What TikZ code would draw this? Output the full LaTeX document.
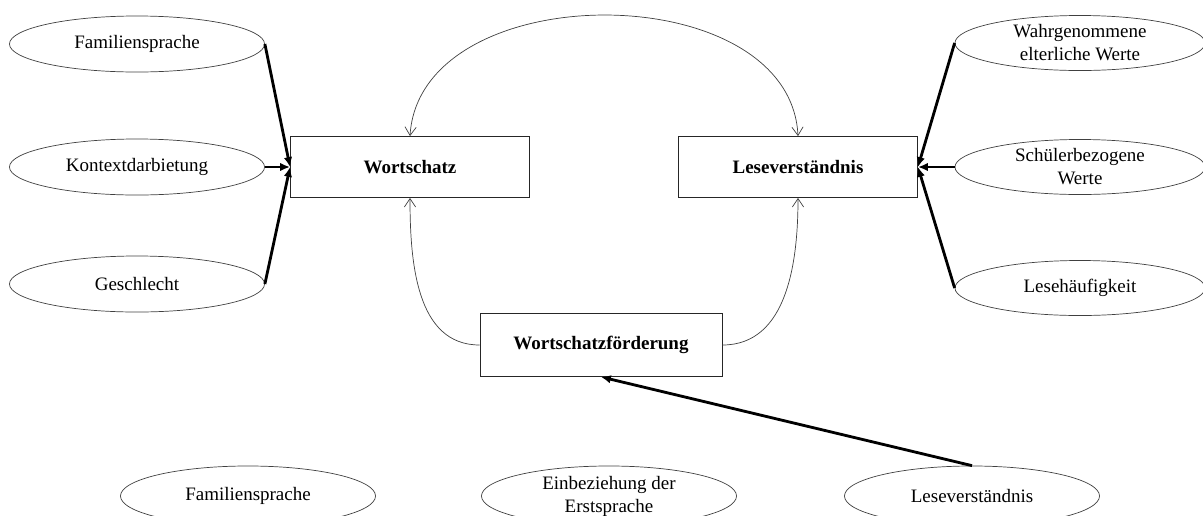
\documentclass[tikz,border=0pt]{standalone}
\usepackage{fontspec}
\setmainfont{Liberation Serif}
\usetikzlibrary{shapes.geometric, arrows.meta}

\begin{document}
\begin{tikzpicture}[x=0.025cm, y=-0.025cm,
    >={Straight Barb[length=6pt, width=8pt]},
    every node/.style={font=\fontsize{13.5}{16.3}\selectfont, align=center},
    faktor/.style={ellipse, draw=black!75, line width=0.5pt, inner xsep=0pt, inner ysep=-2pt, minimum width=6.375cm, minimum height=1.4cm},
    konstrukt/.style={rectangle, draw=black!85, line width=0.6pt, font=\fontsize{13.5}{16.3}\selectfont\bfseries, minimum width=5.975cm, minimum height=1.525cm},
    effekt/.style={-{Latex[length=7pt, width=6pt]}, line width=2pt},
    bezug/.style={draw=black!75, line width=0.5pt}]
    \useasboundingbox (0,0) rectangle (1203,515);

    % Konstrukte

    \node[konstrukt] (ws) at (410,167) {Wortschatz};
    \node[konstrukt] (lv) at (798,167) {Leseverständnis};
    \node[konstrukt, minimum width=6.05cm, minimum height=1.575cm] (wf) at (601,345) {Wortschatzförderung};

    % Faktoren links

    \node[faktor] (fam) at (137,44) {Familiensprache};
    \node[faktor] (kon) at (137,167) {Kontextdarbietung};
    \node[faktor] (ges) at (137,284) {Geschlecht};

    % Faktoren rechts

    \node[faktor, minimum width=6.25cm, minimum height=1.375cm] (eltern) at (1080,43) {Wahrgenommene\\elterliche Werte};
    \node[faktor, minimum width=6.25cm, minimum height=1.375cm] (schueler) at (1080,167) {Schülerbezogene\\Werte};
    \node[faktor, minimum width=6.25cm, minimum height=1.375cm] (haeuf) at (1080,288) {Lesehäufigkeit};

    % Faktoren unten

    \node[faktor, minimum height=1.5cm] (fam2) at (248,496) {Familiensprache};
    \node[faktor, minimum height=1.5cm] (erst) at (609,496) {Einbeziehung der\\Erstsprache};
    \node[faktor, minimum height=1.5cm] (lv2) at (972,496) {Leseverständnis};

    % Pfeile

    \draw[effekt] (fam.east) -- (ws.west);
    \draw[effekt] (kon.east) -- (ws.west);
    \draw[effekt] (ges.east) -- (ws.west);
    \draw[effekt] (eltern.west) -- (lv.east);
    \draw[effekt] (schueler.west) -- (lv.east);
    \draw[effekt] (haeuf.west) -- (lv.east);
    \draw[effekt] (lv2.north) -- (wf.south);

    \draw[bezug, <->] (ws.north) .. controls (420,-25) and (790,-25) .. (lv.north);
    \draw[bezug, ->] (wf.west) to[out=180, in=-90] (ws.south);
    \draw[bezug, ->] (wf.east) to[out=0, in=-90] (lv.south);

\end{tikzpicture}
\end{document}
